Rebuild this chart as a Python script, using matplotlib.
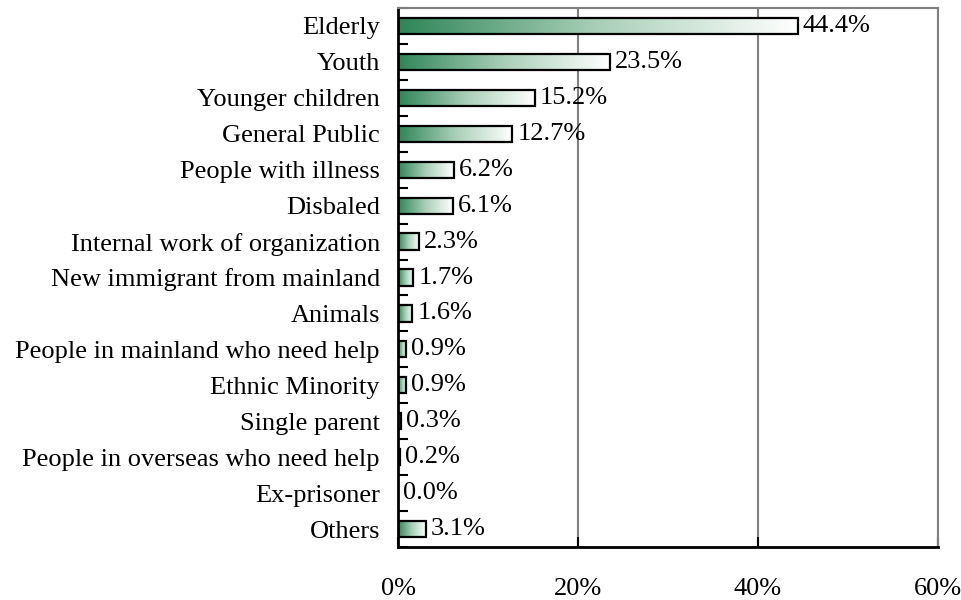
import numpy as np
import matplotlib
matplotlib.use("Agg")
import matplotlib.pyplot as plt
from matplotlib.colors import LinearSegmentedColormap
from matplotlib.patches import Rectangle
from matplotlib.ticker import FixedLocator

plt.rcParams['font.family'] = ['Liberation Serif', 'DejaVu Serif']

categories = [
    "Elderly", "Youth", "Younger children", "General Public",
    "People with illness", "Disbaled", "Internal work of organization",
    "New immigrant from mainland", "Animals",
    "People in mainland who need help", "Ethnic Minority", "Single parent",
    "People in overseas who need help", "Ex-prisoner", "Others",
]
values = [44.4, 23.5, 15.2, 12.7, 6.2, 6.1, 2.3, 1.7, 1.6, 0.9, 0.9, 0.3, 0.2, 0.0, 3.1]
x_ticks = [0, 20, 40, 60]
x_tick_labels = ["0%", "20%", "40%", "60%"]

FS = 19

fig = plt.figure(figsize=(9.62, 6.0), dpi=100)
ax = fig.add_axes([398 / 962, 1 - 547 / 600, 540 / 962, 539 / 600])

n = len(categories)
y = np.arange(n)
bar_h = 0.45
cmap = LinearSegmentedColormap.from_list("greenfade", ["#2f8558", "#a9cfb8", "#ffffff"])
grad = np.linspace(0, 1, 256).reshape(1, -1)

ax.set_xlim(0, 60)
ax.set_ylim(n - 0.5, -0.5)

for yi, v in zip(y, values):
    if v > 0:
        im = ax.imshow(grad, cmap=cmap, aspect='auto',
                       extent=(0, v, yi + bar_h / 2, yi - bar_h / 2),
                       zorder=2, interpolation='bilinear')
        rect = Rectangle((0, yi - bar_h / 2), v, bar_h, facecolor='none',
                         edgecolor='black', linewidth=1.6, zorder=3)
        ax.add_patch(rect)
        im.set_clip_path(rect)
    ax.text(v + 0.55, yi, f"{v:.1f}%", va='center', ha='left', fontsize=FS, zorder=4)

ax.set_ylim(n - 0.5, -0.5)
ax.set_xlim(0, 60)
ax.set_aspect('auto')

# category labels on the left, tick marks at category boundaries
ax.set_yticks(y)
ax.set_yticklabels(categories, fontsize=FS)
ax.tick_params(axis='y', which='major', length=0, pad=13)
ax.yaxis.set_minor_locator(FixedLocator(np.arange(-0.5, n, 1.0)))
ax.tick_params(axis='y', which='minor', direction='in', length=7, width=1.5, color='black')

ax.set_xticks(x_ticks)
ax.set_xticklabels(x_tick_labels, fontsize=FS)
ax.tick_params(axis='x', direction='in', length=7, width=1.5, pad=22, color='black')

ax.grid(axis='x', color='#808080', linewidth=1.5, zorder=0)
ax.set_axisbelow(True)

for side in ('top', 'right'):
    ax.spines[side].set_color('#808080')
    ax.spines[side].set_linewidth(1.5)
for side in ('left', 'bottom'):
    ax.spines[side].set_color('black')
    ax.spines[side].set_linewidth(2)

fig.savefig("out.png", dpi=100, facecolor='white')
